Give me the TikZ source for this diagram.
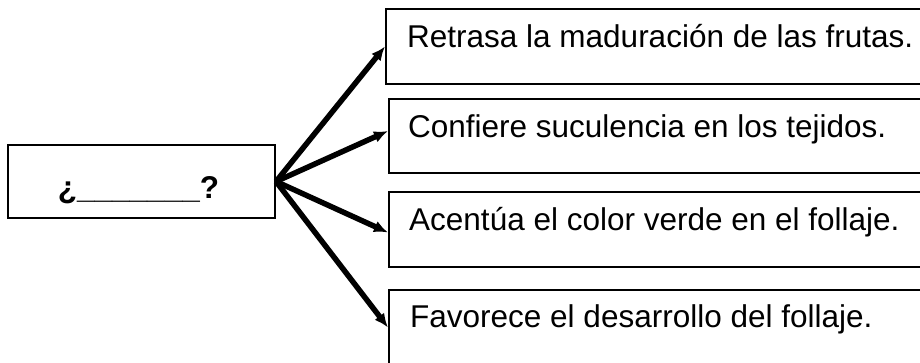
\documentclass[tikz,border=0pt]{standalone}
\usepackage{fontspec}
\setmainfont{Liberation Sans}
\usetikzlibrary{arrows.meta}

\begin{document}
\begin{tikzpicture}[x=1pt, y=1pt, box/.style={draw, rectangle, line width=2pt, inner sep=0pt}, opt/.style={box, anchor=north west, minimum width=560pt, minimum height=75pt}, txt/.style={anchor=base west, inner sep=0pt, font=\fontsize{31.5}{34}\selectfont}, n/.style={-{Latex[length=14pt, width=12pt]}, line width=5.5pt}]
            \clip (0,0) rectangle (920,362);
            % nodes
            \node[box, minimum width=267pt, minimum height=73pt] (q) at (141.5,180.5) {};
            \node[anchor=base, inner sep=0pt, font=\bfseries\fontsize{31.5}{34}\selectfont] (qt) at (138.5,164) {¿\_\_\_\_\_\_\_?};
            \node[opt] (o1) at (385,354) {};
            \node[opt, minimum height=74pt] (o2) at (388,264) {};
            \node[opt] (o3) at (388,171) {};
            \node[opt] (o4) at (388,73) {};
            \node[txt] (t1) at ([shift={(22,-40)}]o1.north west) {Retrasa la maduración de las frutas.};
            \node[txt] (t2) at ([shift={(20,-39)}]o2.north west) {Confiere suculencia en los tejidos.};
            \node[txt] (t3) at ([shift={(21,-39)}]o3.north west) {Acentúa el color verde en el follaje.};
            \node[txt] (t4) at ([shift={(22,-38)}]o4.north west) {Favorece el desarrollo del follaje.};
            % edges
            \draw [n] (q.east) -- (o1.west);
            \draw [n] (q.east) -- ([yshift=5]o2.west);
            \draw [n] (q.east) -- ([yshift=-3]o3.west);
            \draw [n] (q.east) -- (o4.west);
        \end{tikzpicture}
\end{document}
